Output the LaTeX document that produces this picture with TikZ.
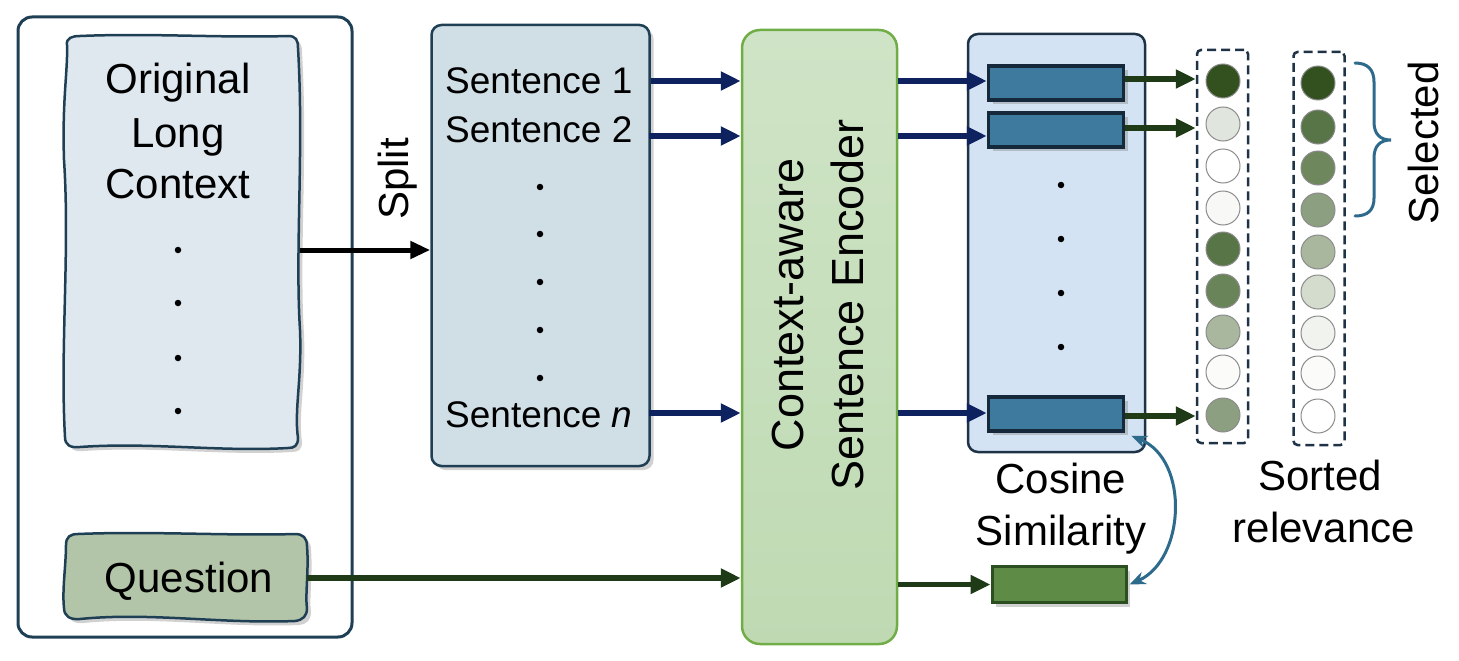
\documentclass[tikz,border=0pt]{standalone}
\usepackage{fontspec}
\setmainfont{Liberation Sans}
\usetikzlibrary{shadows,arrows.meta,calc}
\definecolor{frameC}{HTML}{1F3F55}
\definecolor{ctxFill}{HTML}{DFE8EF}
\definecolor{qFill}{HTML}{B3C5A8}
\definecolor{sentFill}{HTML}{D0DEE6}
\definecolor{encTop}{HTML}{CFE4C6}
\definecolor{encBot}{HTML}{BFDAB3}
\definecolor{encLine}{HTML}{70AD47}
\definecolor{panelFill}{HTML}{D3E3F3}
\definecolor{barFill}{HTML}{3E7A9E}
\definecolor{barLine}{HTML}{15293A}
\definecolor{gbarFill}{HTML}{5E8C46}
\definecolor{gbarLine}{HTML}{2C4F22}
\definecolor{navy}{HTML}{0F2260}
\definecolor{dgreen}{HTML}{1E3A17}
\definecolor{steel}{HTML}{2E6A8C}
\definecolor{dashC}{HTML}{1F3347}
\tikzset{
  mytxt/.style={font=\fontsize{42}{50}\selectfont, inner sep=0pt},
  senttxt/.style={font=\fontsize{37}{44}\selectfont, inner sep=0pt, anchor=base west},
  myshadow/.style={drop shadow={shadow xshift=4pt, shadow yshift=-4pt, opacity=0.3, fill=black!60}},
  navyarrow/.style={draw=navy, line width=5.5pt, -{Triangle[length=20pt,width=18pt]}},
  greenarrow/.style={draw=dgreen, line width=5.5pt, -{Triangle[length=20pt,width=18pt]}},
  blackarrow/.style={draw=black, line width=5pt, -{Triangle[length=20pt,width=17pt]}},
  barbox/.style={draw=barLine, fill=barFill, line width=3.5pt, minimum width=135pt, minimum height=34pt, inner sep=0pt, myshadow},
  dotc/.style={circle, fill=black, inner sep=0pt, minimum size=6.5pt},
  relc/.style={circle, draw=black!45, line width=1pt, minimum size=34pt, inner sep=0pt},
  dashbox/.style={draw=dashC, line width=2.5pt, dash pattern=on 9pt off 5pt, rounded corners=4pt, minimum width=51pt, minimum height=393pt, inner sep=0pt}
}
\begin{document}
\begin{tikzpicture}[x=1pt,y=-1pt]
\useasboundingbox (0,0) rectangle (1459,661);
% outer frame
\node[draw=frameC, line width=3pt, rounded corners=14pt, minimum width=334pt, minimum height=620pt, inner sep=0pt] (frame) at (185,327) {};
% wavy context box
\path[fill=ctxFill, draw=frameC, line width=2.5pt, myshadow]
 (67,45) .. controls (66,38) and (72,36) .. (80,36)
 .. controls (150,33) and (220,38) .. (288,36)
 .. controls (296,36) and (298,40) .. (298,48)
 .. controls (304,150) and (295,250) .. (300,330)
 .. controls (302,380) and (294,410) .. (298,438)
 .. controls (298,446) and (294,448) .. (288,448)
 .. controls (220,452) and (150,442) .. (80,447)
 .. controls (70,448) and (65,445) .. (65,437)
 .. controls (60,350) and (70,250) .. (64,160)
 .. controls (62,100) and (68,70) .. (67,45) -- cycle;
\node[minimum width=235pt, minimum height=412pt, inner sep=0pt] (ctx) at (182,244) {};
\node[mytxt, anchor=base] (t1) at (178,93) {Original};
\node[mytxt, anchor=base] (t2) at (178,147) {Long};
\node[mytxt, anchor=base] (t3) at (178,198) {Context};
\foreach \y [count=\i] in {250,303,358,411} \node[dotc] (cd\i) at (178,\y) {};
% question box
\path[fill=qFill, draw=frameC, line width=2.5pt, myshadow]
 (66,545) .. controls (66,537) and (70,534) .. (78,534)
 .. controls (150,531) and (230,536) .. (295,534)
 .. controls (303,534) and (307,538) .. (307,546)
 .. controls (309,570) and (305,595) .. (307,608)
 .. controls (307,616) and (303,620) .. (295,621)
 .. controls (220,624) and (150,612) .. (80,619)
 .. controls (70,620) and (64,616) .. (64,608)
 .. controls (62,590) and (66,565) .. (66,545) -- cycle;
\node[minimum width=243pt, minimum height=88pt, inner sep=0pt] (q) at (185.5,578) {};
\node[mytxt, anchor=base] (qt) at (189,592) {Question};
% sentence box
\node[draw=frameC, fill=sentFill, line width=2.5pt, rounded corners=10pt, minimum width=218pt, minimum height=441pt, inner sep=0pt, myshadow] (sent) at (540.5,245.5) {};
\node[senttxt] (s1) at (445,93) {Sentence 1};
\node[senttxt] (s2) at (445,142) {Sentence 2};
\node[senttxt] (sn) at (445,427) {Sentence \textit{n}};
\foreach \y [count=\i] in {187,234,282,330,378} \node[dotc] (sd\i) at (540,\y) {};
% split arrow
\coordinate (splitY) at (0,250);
\draw[blackarrow] (ctx.east |- splitY) -- (sent.west |- splitY);
\node[mytxt, rotate=90, anchor=base west] (split) at (408,220) {Split};
% encoder
\node[draw=encLine, top color=encTop, bottom color=encBot, line width=2.5pt, rounded corners=18pt, minimum width=155pt, minimum height=614pt, inner sep=0pt] (enc) at (819.5,337) {};
\node[font=\fontsize{45}{60}\selectfont, align=center, rotate=90, inner sep=0pt] (enct) at (818,305) {Context-aware\\Sentence Encoder};
% panel
\node[draw=dashC, fill=panelFill, line width=2.5pt, rounded corners=10pt, minimum width=177pt, minimum height=418pt, inner sep=0pt] (panel) at (1056.5,243) {};
\node[barbox] (b1) at (1056,83) {};
\node[barbox] (b2) at (1056,130) {};
\node[barbox] (bn) at (1056,414) {};
\foreach \y [count=\i] in {185,239,293,347} \node[dotc] (pd\i) at (1061,\y) {};
\node[draw=gbarLine, fill=gbarFill, line width=3pt, minimum width=134pt, minimum height=36pt, inner sep=0pt, myshadow] (gb) at (1059,584.5) {};
% y levels
\coordinate (y1) at (0,81);
\coordinate (y2) at (0,136);
\coordinate (yn) at (0,413);
\draw[navyarrow] ($(s1.east |- y1)+(18,0)$) -- (enc.west |- y1);
\draw[navyarrow] ($(s2.east |- y2)+(16,0)$) -- (enc.west |- y2);
\draw[navyarrow] ($(sn.east |- yn)+(16,0)$) -- (enc.west |- yn);
\draw[navyarrow] (enc.east |- y1) -- (b1.west |- y1);
\draw[navyarrow] (enc.east |- y2) -- (b2.west |- y2);
\draw[navyarrow] (enc.east |- yn) -- (bn.west |- yn);
\draw[greenarrow] (q.east) -- (enc.west |- q.east);
\draw[greenarrow] (enc.east |- gb.west) -- (gb.west);
% dashed boxes and circles
\node[dashbox] (d1) at (1222.5,246.5) {};
\node[dashbox] (d2) at (1319,248.5) {};
\foreach \y/\c [count=\i] in {81/33511F,124/E0E6DD,166/FFFFFF,208/F8F9F7,249/587547,291/6A8459,332/A8B79D,372/FBFCFA,415/8C9F80}{
  \definecolor{cc}{HTML}{\c}
  \node[relc, fill=cc] (ca\i) at (1223,\y) {};
}
\foreach \y/\c [count=\i] in {83/33511F,127/587547,168/6E875D,210/8C9F80,252/A8B79D,292/D3DCCD,333/F0F3EE,373/FBFCFA,416/FFFFFF}{
  \definecolor{cc}{HTML}{\c}
  \node[relc, fill=cc] (cb\i) at (1318,\y) {};
}
\draw[greenarrow] ($(b1.east)+(0,-4)$) -- ($(b1.east -| d1.west)+(0,-4)$);
\draw[greenarrow] ($(b2.east)+(0,-2)$) -- ($(b2.east -| d1.west)+(0,-2)$);
\draw[greenarrow] ($(bn.east)+(0,2)$) -- ($(bn.east -| d1.west)+(0,2)$);
% cosine similarity double arrow
\draw[draw=steel, line width=3pt, {Stealth[length=16pt,width=13pt]}-{Stealth[length=16pt,width=13pt]}] ($(gb.east)+(2,0)$) .. controls (1185,560) and (1190,460) .. ($(bn.south east)+(6,3)$);
\node[mytxt, anchor=base] (cos1) at (1061,493) {Cosine};
\node[mytxt, anchor=base] (cos2) at (1061,545) {Similarity};
\node[mytxt, anchor=base] (sr1) at (1320,490) {Sorted};
\node[mytxt, anchor=base] (sr2) at (1324,542) {relevance};
% brace
\draw[draw=steel, line width=3pt, line cap=round] (1355,63) .. controls (1368,63) and (1374,70) .. (1374,82) -- (1374,122) .. controls (1374,134) and (1380,140) .. (1391,140) .. controls (1380,140) and (1374,146) .. (1374,158) -- (1374,198) .. controls (1374,210) and (1368,216) .. (1355,216);
\node[mytxt, rotate=90, anchor=base west] (sel) at (1438,225) {Selected};
\end{tikzpicture}
\end{document}
